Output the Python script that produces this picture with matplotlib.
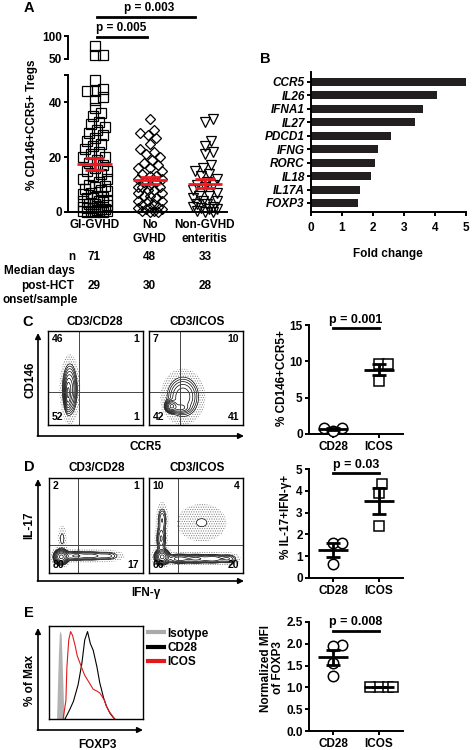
import numpy as np
import matplotlib
matplotlib.use("Agg")
import matplotlib.pyplot as plt
from matplotlib.lines import Line2D
from matplotlib.transforms import blended_transform_factory

plt.rcParams["font.family"] = ["Liberation Sans", "DejaVu Sans"]
plt.rcParams["font.weight"] = "bold"
plt.rcParams["font.size"] = 8.5
plt.rcParams["axes.linewidth"] = 1.4
plt.rcParams["xtick.major.width"] = 1.4
plt.rcParams["ytick.major.width"] = 1.4
plt.rcParams["xtick.major.size"] = 3
plt.rcParams["ytick.major.size"] = 3
plt.rcParams["xtick.major.pad"] = 2
plt.rcParams["ytick.major.pad"] = 1.5
plt.rcParams["hatch.linewidth"] = 0.5
plt.rcParams["hatch.color"] = "#808080"

# ---------------- data ----------------
# A: % CD146+CCR5+ Tregs per patient
groups_a = ["GI-GVHD", "No\nGVHD", "Non-GVHD\nenteritis"]
gi_gvhd = [78, 59, 58,
           48, 45, 44, 44, 42, 41,
           38, 36, 35, 33, 32, 31, 30,
           29, 28, 27, 26, 25, 24, 23, 22, 21, 20, 20,
           19, 18, 17, 16, 15, 15, 14, 13, 12, 12, 11, 10,
           9.5, 9, 8.5, 8, 7.5, 7, 6.5, 6, 5.5, 5, 5, 4.5, 4, 4, 3.5, 3, 3,
           2.5, 2, 2, 1.5, 1.5, 1, 1, 0.8, 0.5, 0.5, 0.3, 0.2, 0.1, 0, 0]
no_gvhd = [34, 30, 29, 28, 27, 25, 23, 22, 21, 20,
           19, 18, 17, 16, 16, 15, 14, 13, 13, 12,
           12, 11, 11, 10, 9, 9, 9, 8, 8, 7,
           7, 6, 6, 5, 4, 4, 4, 3, 2.5, 2,
           2, 1.5, 1, 1, 0.5, 0.5, 0, 0]
non_gvhd = [34, 33, 26, 24, 22, 21, 17, 16, 15, 14,
            13, 12, 11, 10, 10, 9, 8, 7, 6, 6,
            5, 4, 4, 3, 3, 2, 2, 1.5, 1, 1,
            0.5, 0, 0]
n_row = ["71", "48", "33"]
median_days = ["29", "30", "28"]

# B: fold change
genes_b = ["CCR5", "IL26", "IFNA1", "IL27", "PDCD1", "IFNG", "RORC", "IL18", "IL17A", "FOXP3"]
fold_b = [5.0, 4.05, 3.62, 3.35, 2.57, 2.15, 2.05, 1.93, 1.58, 1.52]

# C-E summary dots
stim = ["CD28", "ICOS"]
c_cd28 = [0.8, 0.8, 0.35]
c_icos = [9.6, 9.6, 7.3]
d_cd28 = [1.6, 1.6, 0.65]
d_icos = [4.3, 3.9, 2.4]
e_cd28 = [1.98, 1.95, 1.55, 1.27]
e_icos = [1.0, 1.0, 1.0, 1.0]

# flow quadrant percentages (UL, UR, LL, LR)
quad_c = [["46", "1", "52", "1"], ["7", "10", "42", "41"]]
quad_d = [["2", "1", "80", "17"], ["10", "4", "66", "20"]]

# population blobs (cx, cy, sx, sy, weight), box units
blobs_c_cd28 = [(0.23, 0.38, 0.035, 0.12, 1.0), (0.21, 0.33, 0.015, 0.08, 1.2)]
blobs_c_icos = [(0.36, 0.30, 0.08, 0.10, 0.6), (0.24, 0.20, 0.03, 0.03, 1.5),
                (0.33, 0.18, 0.05, 0.025, 0.5)]
blobs_d_cd28 = [(0.13, 0.17, 0.035, 0.035, 1.0), (0.28, 0.18, 0.07, 0.025, 0.25),
                (0.45, 0.18, 0.07, 0.025, 0.18), (0.62, 0.18, 0.07, 0.025, 0.12),
                (0.14, 0.36, 0.02, 0.06, 0.06)]
blobs_d_icos = [(0.14, 0.17, 0.035, 0.035, 1.0), (0.13, 0.36, 0.025, 0.07, 0.25),
                (0.14, 0.56, 0.025, 0.07, 0.15), (0.32, 0.15, 0.07, 0.025, 0.3),
                (0.50, 0.15, 0.07, 0.025, 0.25), (0.68, 0.15, 0.07, 0.025, 0.22),
                (0.84, 0.15, 0.05, 0.025, 0.15), (0.56, 0.53, 0.12, 0.09, 0.045)]
quad_lines_c = (0.33, 0.35)
quad_lines_d = (0.31, 0.29)

# E: FOXP3 histograms (% of max)
iso_x = [8, 10, 11, 12, 13, 14, 16]
iso_y = [0, 70, 92, 95, 90, 60, 0]
cd28_x = [17, 22, 26, 31, 35, 38, 41, 44, 47, 51, 54, 58, 61, 65, 68, 70]
cd28_y = [0, 10, 19, 37, 60, 85, 94, 81, 74, 56, 39, 23, 14, 6, 2, 0]
icos_x = [15, 18, 19, 21, 23, 25, 28, 30, 33, 36, 38, 41, 44, 47, 51, 54, 56, 59, 61, 64, 67, 70]
icos_y = [0, 20, 55, 85, 94, 90, 78, 68, 60, 52, 47, 42, 37, 32, 30, 28, 25, 20, 14, 8, 4, 0]

# ---------------- figure ----------------
W, H = 472, 750
fig = plt.figure(figsize=(W / 100, H / 100), dpi=100)


def px_axes(l, t, r, b):
    return fig.add_axes([l / W, 1 - b / H, (r - l) / W, (b - t) / H])


def ftext(x, y, s, **kw):
    kw.setdefault("ha", "center")
    kw.setdefault("va", "center")
    fig.text(x / W, 1 - y / H, s, **kw)


def swarm(ypx, dmin, step, maxoff):
    ypx = np.asarray(ypx, float)
    offs = np.zeros(len(ypx))
    cands = [0.0]
    k = 1
    while k * step <= maxoff:
        cands += [k * step, -k * step]
        k += 1
    placed = []
    for i in np.argsort(ypx):
        best, bestd = 0.0, -1.0
        for c in cands:
            d = min((np.hypot(c - px, ypx[i] - py) for px, py in placed), default=np.inf)
            if d >= dmin:
                best = c
                break
            if d > bestd:
                bestd, best = d, c
        offs[i] = best
        placed.append((best, ypx[i]))
    return offs


def ypix(ax, v):
    v = np.asarray(v, float)
    return ax.transData.transform(np.column_stack([np.zeros(len(v)), v]))[:, 1]


def x_per_unit(ax):
    return ax.transData.transform((1, 0))[0] - ax.transData.transform((0, 0))[0]


# ---------- Panel A ----------
axA = px_axes(68, 75, 227, 212)
axAt = px_axes(68, 36, 227, 59)
for ax in (axA, axAt):
    ax.set_xlim(-0.48, 2.4)
    ax.spines[["top", "right"]].set_visible(False)
axA.set_ylim(0, 50)
axA.set_yticks([0, 20, 40, 50])
axA.set_yticklabels(["0", "20", "40", ""])
axA.set_xticks([0, 1, 2])
axA.set_xticklabels(groups_a)
axA.tick_params(axis="x", length=0, pad=5)
axAt.set_ylim(49.5, 100.5)
axAt.set_yticks([50, 100])
axAt.set_yticklabels(["50", "100"])
axAt.spines["bottom"].set_visible(False)
axAt.spines["left"].set_bounds(50, 100)
axAt.set_xticks([])

markers_a = ["s", "D", "v"]
sizes_a = [6.5, 5.2, 7.0]
xpu = x_per_unit(axA)
for i, (vals, m, ms) in enumerate(zip([gi_gvhd, no_gvhd, non_gvhd], markers_a, sizes_a)):
    v = np.asarray(vals, float)
    hi = v > 50
    ypx = np.where(hi, ypix(axAt, v), ypix(axA, v))
    offs = swarm(ypx, 7.0, 2.0, 13.0) / xpu
    for ax, sel in ((axA, ~hi), (axAt, hi)):
        if sel.any():
            ax.plot(i + offs[sel], v[sel], ls="none", marker=m, ms=ms, mfc="none",
                    mec="black", mew=0.9, clip_on=False, zorder=3)
    mean = v.mean()
    sem = v.std(ddof=1) / np.sqrt(len(v))
    axA.hlines(mean, i - 0.31, i + 0.31, color="#ed1c24", lw=2, zorder=5)
    axA.hlines([mean - sem, mean + sem], i - 0.18, i + 0.18, color="#ed1c24", lw=2, zorder=5)
    axA.vlines(i, mean - sem, mean + sem, color="#ed1c24", lw=2, zorder=5)

trA = blended_transform_factory(axA.transData, fig.transFigure)
for i in range(3):
    fig.text(i, 1 - 257 / H, n_row[i], transform=trA, ha="center", va="center")
    fig.text(i, 1 - 286 / H, median_days[i], transform=trA, ha="center", va="center")
ftext(75, 257, "n", ha="right")
ftext(75, 271, "Median days", ha="right")
ftext(74, 286, "post-HCT", ha="right")
ftext(78, 300, "onset/sample", ha="right")
ftext(32, 125, "% CD146+CCR5+ Tregs", rotation=90)
ftext(149, 8, "p = 0.003")
ftext(121, 28, "p = 0.005")
ftext(29, 8, "A", fontsize=10.5)

# ---------- Panel B ----------
axB = px_axes(311, 72, 466, 212)
ypos = np.arange(len(genes_b))
axB.barh(ypos, fold_b, height=0.6, color="#231f20")
axB.set_ylim(9.67, -0.74)
axB.set_xlim(0, 5)
axB.set_yticks(ypos)
axB.set_yticklabels(genes_b, style="italic")
axB.set_xticks(range(6))
axB.spines[["top", "right"]].set_visible(False)
axB.tick_params(axis="x", pad=4)
ftext(388, 254, "Fold change")
ftext(265, 59, "B", fontsize=10.5)


# ---------- flow contour panels ----------
def flow_box(ax, blobs, qlines, quads):
    g = np.linspace(0, 1, 220)
    X, Y = np.meshgrid(g, g)
    Z = np.zeros_like(X)
    for cx, cy, sx, sy, w in blobs:
        Z += w * np.exp(-0.5 * (((X - cx) / sx) ** 2 + ((Y - cy) / sy) ** 2))
    zmax = Z.max()
    ax.contourf(X, Y, Z, levels=[zmax * 0.004, zmax * 0.04], colors="none",
                hatches=["......."])
    ax.contour(X, Y, Z, levels=zmax * np.geomspace(0.04, 0.85, 8),
               colors="black", linewidths=0.5)
    ax.axvline(qlines[0], color="#444444", lw=0.7)
    ax.axhline(qlines[1], color="#444444", lw=0.7)
    ax.set_xlim(0, 1)
    ax.set_ylim(0, 1)
    ax.set_xticks([])
    ax.set_yticks([])
    for sp in ax.spines.values():
        sp.set_linewidth(1.0)
    kw = dict(transform=ax.transAxes, fontsize=7.5)
    ax.text(0.04, 0.97, quads[0], ha="left", va="top", **kw)
    ax.text(0.96, 0.97, quads[1], ha="right", va="top", **kw)
    ax.text(0.04, 0.03, quads[2], ha="left", va="bottom", **kw)
    ax.text(0.96, 0.03, quads[3], ha="right", va="bottom", **kw)


flow_box(px_axes(48, 331, 143, 425), blobs_c_cd28, quad_lines_c, quad_c[0])
flow_box(px_axes(149, 331, 243, 425), blobs_c_icos, quad_lines_c, quad_c[1])
flow_box(px_axes(49, 478, 143, 573), blobs_d_cd28, quad_lines_d, quad_d[0])
flow_box(px_axes(149, 478, 243, 573), blobs_d_icos, quad_lines_d, quad_d[1])

ftext(28, 322, "C", fontsize=10.5)
ftext(95, 322, "CD3/CD28")
ftext(197, 322, "CD3/ICOS")
ftext(30, 380, "CD146", rotation=90)
ftext(146, 447, "CCR5")

ftext(29, 467, "D", fontsize=10.5)
ftext(97, 468, "CD3/CD28")
ftext(197, 468, "CD3/ICOS")
ftext(29, 525, "IL-17", rotation=90)
ftext(146, 593, "IFN-γ")

# ---------- E histogram ----------
axE = px_axes(49, 626, 143, 719)
axE.fill_between(iso_x, iso_y, color="#b3b3b3", lw=0)
axE.plot(cd28_x, cd28_y, color="black", lw=0.8)
axE.plot(icos_x, icos_y, color="#e31a1c", lw=0.8)
axE.set_xlim(0, 100)
axE.set_ylim(0, 100)
axE.set_xticks([])
axE.set_yticks([])
for sp in axE.spines.values():
    sp.set_linewidth(1.0)
handles = [Line2D([], [], color="#aaaaaa", lw=3), Line2D([], [], color="black", lw=3),
           Line2D([], [], color="#e31a1c", lw=3)]
axE.legend(handles, ["Isotype", "CD28", "ICOS"], loc="upper left",
           bbox_to_anchor=(0.98, 1.06), frameon=False, handlelength=1.3,
           handletextpad=0.3, labelspacing=0.2, borderaxespad=0.2,
           prop={"weight": "bold", "size": 8.5})
ftext(29, 613, "E", fontsize=10.5)
ftext(30, 680, "% of Max", rotation=90)
ftext(97, 745, "FOXP3")


# ---------- dot panels ----------
def dot_panel(box, a, b, ymax, yticks, ylabels, p_text, p_y, p_ty):
    ax = px_axes(*box)
    ax.set_xlim(-0.52, 1.52)
    ax.set_ylim(0, ymax)
    ax.set_yticks(yticks)
    ax.set_yticklabels(ylabels)
    ax.set_xticks([0, 1])
    ax.set_xticklabels(stim)
    ax.spines[["top", "right"]].set_visible(False)
    xu = x_per_unit(ax)
    for i, (vals, m) in enumerate(((a, "o"), (b, "s"))):
        v = np.asarray(vals, float)
        offs = swarm(ypix(ax, v), 9.0, 1.0, 14.0) / xu
        ax.plot(i + offs, v, ls="none", marker=m, ms=7.5, mfc="white", mec="black",
                mew=1.1, clip_on=False, zorder=3)
        mean = v.mean()
        sem = v.std(ddof=1) / np.sqrt(len(v))
        ax.hlines(mean, i - 0.33, i + 0.33, color="black", lw=2, zorder=4)
        ax.hlines([mean - sem, mean + sem], i - 0.15, i + 0.15, color="black", lw=2, zorder=4)
        ax.vlines(i, mean - sem, mean + sem, color="black", lw=2, zorder=4)
    ax.plot([0, 1], [p_y, p_y], color="black", lw=2, clip_on=False)
    ax.text(0.5, p_ty, p_text, ha="center", va="bottom", fontsize=9)
    return ax


dot_panel((309, 325, 403, 434), c_cd28, c_icos, 15, [0, 5, 10, 15],
          ["0", "5", "10", "15"], "p = 0.001", 14.6, 14.9)
ftext(282, 378, "% CD146+CCR5+", rotation=90)
dot_panel((309, 469, 403, 578), d_cd28, d_icos, 5, range(6),
          [str(t) for t in range(6)], "p = 0.03", 4.8, 4.9)
ftext(286, 517, "% IL-17+IFN-γ+", rotation=90)
dot_panel((309, 622, 403, 731), e_cd28, e_icos, 2.5, [0, 0.5, 1.0, 1.5, 2.0, 2.5],
          ["0.0", "0.5", "1.0", "1.5", "2.0", "2.5"], "p = 0.008", 2.3, 2.36)
ftext(272, 668, "Normalized MFI\nof FOXP3", rotation=90, linespacing=1.1)

# ---------- overlay: arrows and p-value bars for A ----------
ov = fig.add_axes([0, 0, 1, 1])
ov.set_xlim(0, W)
ov.set_ylim(H, 0)
ov.axis("off")
ov.patch.set_alpha(0)
ov.plot([97, 195], [17, 17], color="black", lw=2)
ov.plot([97, 147], [37, 37], color="black", lw=2)
arrow = dict(arrowstyle="-|>", lw=1.2, color="black", mutation_scale=8, shrinkA=0, shrinkB=0)
for top, base, right in ((333, 436, 244), (479, 581, 244), (628, 730, 143)):
    ov.annotate("", xy=(38, top), xytext=(38, base), arrowprops=arrow)
    ov.annotate("", xy=(right, base), xytext=(37.4, base), arrowprops=arrow)

fig.savefig("out.png", dpi=100)
